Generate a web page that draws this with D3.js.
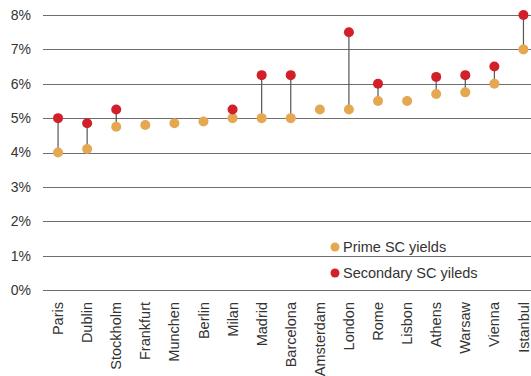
<!DOCTYPE html>
<html>
<head>
<meta charset="utf-8">
<script src="https://cdn.jsdelivr.net/npm/d3@7"></script>
<style>
  html, body { margin: 0; padding: 0; background: #fff; }
  svg { display: block; font-family: "Liberation Sans", Arial, sans-serif; }
</style>
</head>
<body>
<svg id="chart" width="531" height="376"></svg>
<script>
// Shopping-centre yields by city
const cities = ["Paris", "Dublin", "Stockholm", "Frankfurt", "Munchen", "Berlin", "Milan", "Madrid",
  "Barcelona", "Amsterdam", "London", "Rome", "Lisbon", "Athens", "Warsaw", "Vienna", "Istanbul"];
const primeYields = [4.0, 4.1, 4.75, 4.8, 4.85, 4.9, 5.0, 5.0, 5.0, 5.25, 5.25, 5.5, 5.5, 5.7, 5.75, 6.0, 7.0];
const secondaryYields = [5.0, 4.85, 5.25, null, null, null, 5.25, 6.25, 6.25, null, 7.5, 6.0, null, 6.2, 6.25, 6.5, 8.0];
const yTicks = [0, 1, 2, 3, 4, 5, 6, 7, 8];
const seriesNames = ["Prime SC yields", "Secondary SC yileds"];
const seriesColors = ["#E5A850", "#D2202A"];

const svg = d3.select("#chart");

const x = d3.scaleBand().domain(cities).range([43.5, 538]).padding(0);
const y = d3.scaleLinear().domain([0, 8]).range([290, 15]);

// horizontal gridlines
svg.append("g")
  .selectAll("line")
  .data(yTicks)
  .join("line")
  .attr("x1", 43).attr("x2", 531)
  .attr("y1", d => Math.round(y(d)) + 0.5)
  .attr("y2", d => Math.round(y(d)) + 0.5)
  .attr("stroke", "#6e6e6e")
  .attr("stroke-width", 1);

// y-axis labels
const yAxis = d3.axisLeft(y).tickValues(yTicks).tickFormat(d => d + "%").tickSize(0).tickPadding(0);
svg.append("g")
  .attr("transform", "translate(31,0)")
  .call(yAxis)
  .call(g => g.select(".domain").remove())
  .call(g => g.selectAll("text")
    .attr("font-size", 14)
    .attr("font-family", "Liberation Sans, Arial, sans-serif")
    .attr("fill", "#333"));

// x-axis labels, rotated
const xAxis = d3.axisBottom(x).tickSize(0).tickPadding(0);
svg.append("g")
  .attr("transform", "translate(0,302)")
  .call(xAxis)
  .call(g => g.select(".domain").remove())
  .call(g => g.selectAll("text")
    .attr("font-size", 14.5)
    .attr("font-family", "Liberation Sans, Arial, sans-serif")
    .attr("fill", "#333")
    .attr("text-anchor", "end")
    .attr("dy", "0.35em")
    .attr("transform", "rotate(-90)")
    .attr("x", 0).attr("y", 0));

const rows = cities.map((c, i) => ({ city: c, prime: primeYields[i], secondary: secondaryYields[i] }));
const cx = d => x(d.city) + x.bandwidth() / 2;

// connectors between prime and secondary
svg.append("g")
  .selectAll("line")
  .data(rows.filter(d => d.secondary != null))
  .join("line")
  .attr("x1", cx).attr("x2", cx)
  .attr("y1", d => y(d.prime)).attr("y2", d => y(d.secondary))
  .attr("stroke", "#555")
  .attr("stroke-width", 1.2);

// prime dots
svg.append("g")
  .selectAll("circle")
  .data(rows)
  .join("circle")
  .attr("cx", cx).attr("cy", d => y(d.prime))
  .attr("r", 5)
  .attr("fill", seriesColors[0]);

// secondary dots
svg.append("g")
  .selectAll("circle")
  .data(rows.filter(d => d.secondary != null))
  .join("circle")
  .attr("cx", cx).attr("cy", d => y(d.secondary))
  .attr("r", 5)
  .attr("fill", seriesColors[1]);

// legend
const legend = svg.append("g").attr("transform", "translate(335,247)");
seriesNames.forEach((name, i) => {
  const g = legend.append("g").attr("transform", `translate(0,${i * 26})`);
  g.append("circle").attr("r", 4.5).attr("fill", seriesColors[i]);
  g.append("text")
    .attr("x", 8).attr("dy", "0.35em")
    .attr("font-size", 14.5)
    .attr("fill", "#333")
    .text(name);
});
</script>
</body>
</html>
